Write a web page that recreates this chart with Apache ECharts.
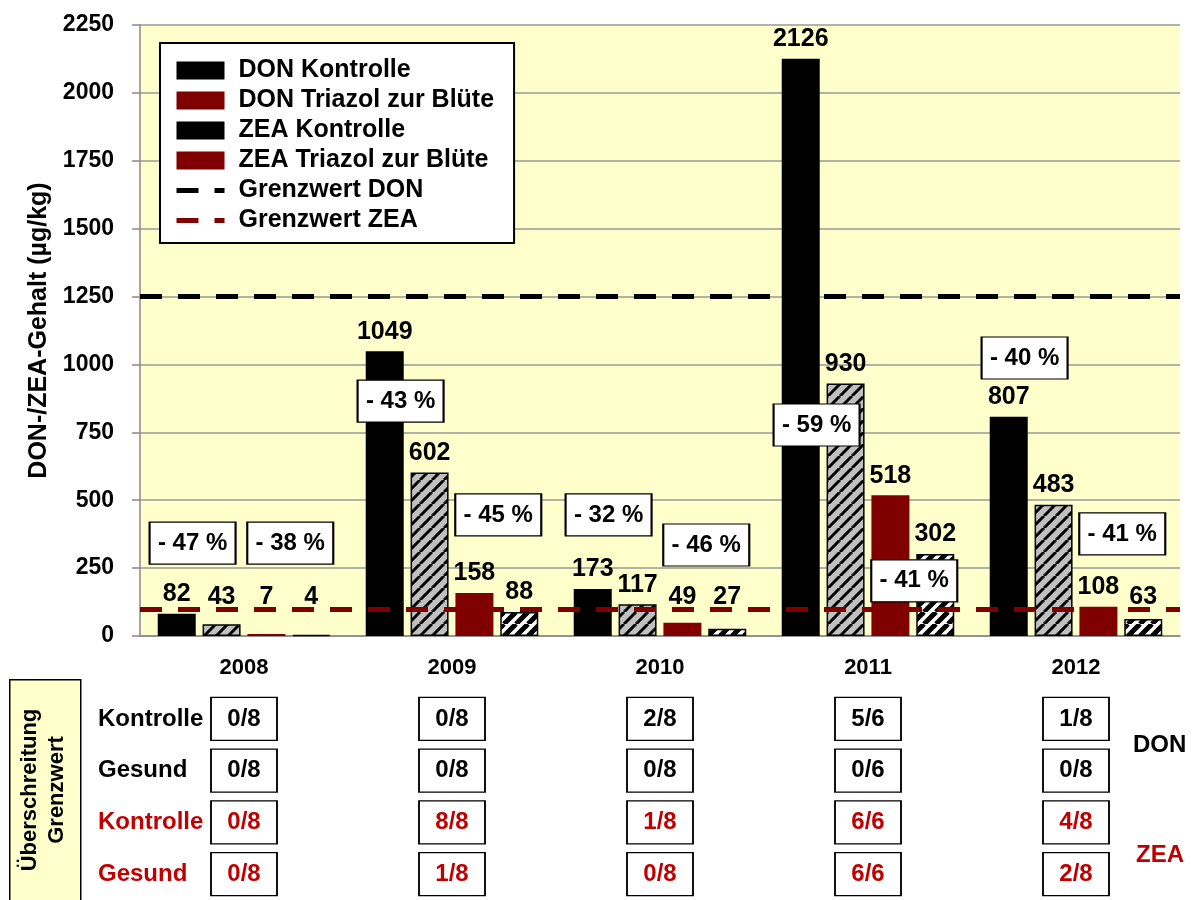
<!DOCTYPE html>
<html>
<head>
<meta charset="utf-8">
<script src="https://cdn.jsdelivr.net/npm/echarts@6/dist/echarts.min.js"></script>
<style>
  html, body { margin: 0; padding: 0; background: #fff; }
  #main { width: 1199px; height: 900px; }
</style>
</head>
<body>
<div id="main"></div>
<script>
// Jahre
const years = ["2008", "2009", "2010", "2011", "2012"];
// DON / ZEA Gehalt (µg/kg)
const donKontrolle = [82, 1049, 173, 2126, 807];
const donTriazol = [43, 602, 117, 930, 483];
const zeaKontrolle = [7, 158, 49, 518, 108];
const zeaTriazol = [4, 88, 27, 302, 63];
// Grenzwerte
const grenzwertDon = 1250;
const grenzwertZea = 100;
// Reduktion durch Triazol (Text + Höhe der Box in Achsenwerten)
const donReduktion = ["- 47 %", "- 43 %", "- 32 %", "- 59 %", "- 40 %"];
const donReduktionY = [342, 865, 446, 777, 1024];
const zeaReduktion = ["- 38 %", "- 45 %", "- 46 %", "- 41 %", "- 41 %"];
const zeaReduktionY = [342, 446, 335, 203, 376];
// Überschreitung Grenzwert
const tabellenZeilen = ["Kontrolle", "Gesund", "Kontrolle", "Gesund"];
const donKontrolleUeber = ["0/8", "0/8", "2/8", "5/6", "1/8"];
const donGesundUeber = ["0/8", "0/8", "0/8", "0/6", "0/8"];
const zeaKontrolleUeber = ["0/8", "8/8", "1/8", "6/6", "4/8"];
const zeaGesundUeber = ["0/8", "1/8", "0/8", "6/6", "2/8"];

const FONT = "Liberation Sans";
const RED = "#800000";
const TEXT_RED = "#C00000";
const Y_MAX = 2250;
const PLOT_H = 611; // px höhe der zeichenfläche

// schraffur als canvas pattern
function makeHatch(bg, lineW, period) {
  const c = document.createElement("canvas");
  c.width = period;
  c.height = period;
  const ctx = c.getContext("2d");
  ctx.fillStyle = bg;
  ctx.fillRect(0, 0, period, period);
  ctx.strokeStyle = "#000";
  ctx.lineWidth = lineW;
  [-period, 0, period].forEach(function(o) {
    ctx.beginPath();
    ctx.moveTo(o, period);
    ctx.lineTo(o + period, 0);
    ctx.stroke();
  });
  return c;
}
const grayHatch = makeHatch("#c0c0c0", 3, 12);
const whiteHatch = makeHatch("#ffffff", 5, 12);

const barLabel = {
  show: true,
  position: "top",
  distance: 7,
  color: "#000",
  fontFamily: FONT,
  fontWeight: "bold",
  fontSize: 25
};

// kleine werte: beschriftung etwas anheben (wie im original)
function barData(values) {
  return values.map(function(v) {
    const lift = Math.max(0, 70 - v) * PLOT_H / Y_MAX;
    if (!lift) return v;
    return { value: v, label: { offset: [0, -lift] } };
  });
}

function boxMarks(texts, ys, offsetX) {
  return {
    symbol: "rect",
    symbolSize: [86, 42],
    symbolOffset: [offsetX, 0],
    silent: true,
    itemStyle: { color: "#fff", borderColor: "#000", borderWidth: 1.5 },
    label: {
      show: true,
      position: "inside",
      formatter: "{b}",
      color: "#000",
      fontFamily: FONT,
      fontWeight: "bold",
      fontSize: 24
    },
    data: texts.map(function(t, i) {
      return { name: t, coord: [i, ys[i]] };
    })
  };
}

function grenzLinie(name, value, color) {
  return {
    name: name,
    type: "line",
    data: [],
    symbol: "none",
    xAxisIndex: 0,
    yAxisIndex: 0,
    itemStyle: { color: color },
    lineStyle: { color: color, width: 5, type: [22, 16] },
    markLine: {
      silent: true,
      symbol: ["none", "none"],
      label: { show: false },
      lineStyle: { color: color, width: 5, type: [22, 16] },
      data: [{ yAxis: value }]
    }
  };
}

function tabellenDaten(rowA, rowB, a, b) {
  const out = [];
  years.forEach(function(y, i) {
    out.push([i, rowA, a[i]]);
    out.push([i, rowB, b[i]]);
  });
  return out;
}

function tabellenSerie(name, data, color) {
  return {
    name: name,
    type: "scatter",
    xAxisIndex: 1,
    yAxisIndex: 1,
    silent: true,
    symbol: "rect",
    symbolSize: [66, 43],
    itemStyle: { color: "#fff", borderColor: "#000", borderWidth: 1.5, opacity: 1 },
    label: {
      show: true,
      position: "inside",
      formatter: function(p) {
        return p.value[2];
      },
      color: color,
      fontFamily: FONT,
      fontWeight: "bold",
      fontSize: 24
    },
    data: data
  };
}

const chart = echarts.init(document.getElementById("main"));

const option = {
  animation: false,
  textStyle: { fontFamily: FONT },
  grid: [
    {
      left: 140,
      right: 19,
      top: 25,
      bottom: 264,
      show: true,
      backgroundColor: "#FFFFCC",
      borderWidth: 0
    },
    { left: 140, right: 19, top: 693, height: 213 }
  ],
  legend: {
    orient: "vertical",
    left: 160,
    top: 43,
    padding: [15, 20, 10, 14],
    backgroundColor: "#fff",
    borderColor: "#000",
    borderWidth: 2,
    itemWidth: 48,
    itemHeight: 18,
    itemGap: 5,
    itemStyle: { borderWidth: 0 },
    lineStyle: { width: 5 },
    textStyle: {
      color: "#000",
      fontFamily: FONT,
      fontWeight: "bold",
      fontSize: 25,
      padding: [0, 0, 0, 9]
    },
    data: [
      { name: "DON Kontrolle", icon: "rect", itemStyle: { color: "#000" } },
      { name: "DON Triazol zur Blüte", icon: "rect", itemStyle: { color: RED } },
      { name: "ZEA Kontrolle", icon: "rect", itemStyle: { color: "#000" } },
      { name: "ZEA Triazol zur Blüte", icon: "rect", itemStyle: { color: RED } },
      { name: "Grenzwert DON", itemStyle: { color: "transparent", opacity: 0 } },
      { name: "Grenzwert ZEA", itemStyle: { color: "transparent", opacity: 0 } }
    ]
  },
  xAxis: [
    {
      type: "category",
      gridIndex: 0,
      data: years,
      axisLine: { lineStyle: { color: "#888", width: 1.5 } },
      axisTick: { length: 8, lineStyle: { color: "#888", width: 1.5 } },
      axisLabel: {
        margin: 21,
        color: "#000",
        fontFamily: FONT,
        fontWeight: "bold",
        fontSize: 22
      }
    },
    { type: "category", gridIndex: 1, data: years, show: false }
  ],
  yAxis: [
    {
      type: "value",
      gridIndex: 0,
      min: 0,
      max: Y_MAX,
      interval: 250,
      name: "DON-/ZEA-Gehalt (µg/kg)",
      nameLocation: "middle",
      nameGap: 68,
      nameTextStyle: {
        color: "#000",
        fontFamily: FONT,
        fontWeight: "bold",
        fontSize: 25
      },
      axisLine: { show: true, lineStyle: { color: "#888", width: 1.5 } },
      axisTick: { show: true, length: 8, lineStyle: { color: "#888", width: 1.5 } },
      splitLine: { lineStyle: { color: "#999", width: 1.5 } },
      axisLabel: {
        margin: 26,
        color: "#000",
        fontFamily: FONT,
        fontWeight: "bold",
        fontSize: 23,
        formatter: function(v) {
          return String(v);
        }
      }
    },
    {
      type: "category",
      gridIndex: 1,
      inverse: true,
      data: tabellenZeilen,
      axisLine: { show: false },
      axisTick: { show: false },
      splitLine: { show: false },
      axisLabel: {
        align: "left",
        margin: 42,
        fontFamily: FONT,
        fontWeight: "bold",
        fontSize: 24,
        color: function(value, index) {
          return index < 2 ? "#000" : TEXT_RED;
        }
      }
    }
  ],
  series: [
    {
      name: "DON Kontrolle",
      type: "bar",
      barWidth: 38,
      barGap: "18%",
      itemStyle: { color: "#000" },
      label: barLabel,
      data: barData(donKontrolle)
    },
    {
      name: "DON Triazol zur Blüte",
      type: "bar",
      barWidth: 38,
      barGap: "18%",
      itemStyle: {
        color: { image: grayHatch, repeat: "repeat" },
        borderColor: "#000",
        borderWidth: 1.5
      },
      label: barLabel,
      data: barData(donTriazol),
      markPoint: boxMarks(donReduktion, donReduktionY, -29)
    },
    {
      name: "ZEA Kontrolle",
      type: "bar",
      barWidth: 38,
      barGap: "18%",
      itemStyle: { color: RED },
      label: barLabel,
      data: barData(zeaKontrolle)
    },
    {
      name: "ZEA Triazol zur Blüte",
      type: "bar",
      barWidth: 38,
      barGap: "18%",
      itemStyle: {
        color: { image: whiteHatch, repeat: "repeat" },
        borderColor: "#000",
        borderWidth: 1.5
      },
      label: barLabel,
      data: barData(zeaTriazol),
      markPoint: boxMarks(zeaReduktion, zeaReduktionY, -21)
    },
    grenzLinie("Grenzwert DON", grenzwertDon, "#000"),
    grenzLinie("Grenzwert ZEA", grenzwertZea, RED),
    tabellenSerie("DON Tabelle", tabellenDaten(0, 1, donKontrolleUeber, donGesundUeber), "#000"),
    tabellenSerie("ZEA Tabelle", tabellenDaten(2, 3, zeaKontrolleUeber, zeaGesundUeber), TEXT_RED)
  ],
  graphic: [
    {
      type: "rect",
      left: 9,
      top: 679,
      shape: { width: 71, height: 240 },
      style: { fill: "#FFFFCC", stroke: "#000", lineWidth: 1.5 }
    },
    {
      type: "text",
      x: 43,
      y: 790,
      rotation: Math.PI / 2,
      style: {
        text: "Überschreitung\nGrenzwert",
        x: 0,
        y: 0,
        align: "center",
        verticalAlign: "middle",
        lineHeight: 27,
        font: "bold 22px 'Liberation Sans'",
        fill: "#000"
      }
    },
    {
      type: "text",
      left: 1133,
      top: 733,
      style: { text: "DON", font: "bold 24px 'Liberation Sans'", fill: "#000" }
    },
    {
      type: "text",
      left: 1136,
      top: 843,
      style: { text: "ZEA", font: "bold 24px 'Liberation Sans'", fill: TEXT_RED }
    }
  ]
};

chart.setOption(option);
</script>
</body>
</html>
